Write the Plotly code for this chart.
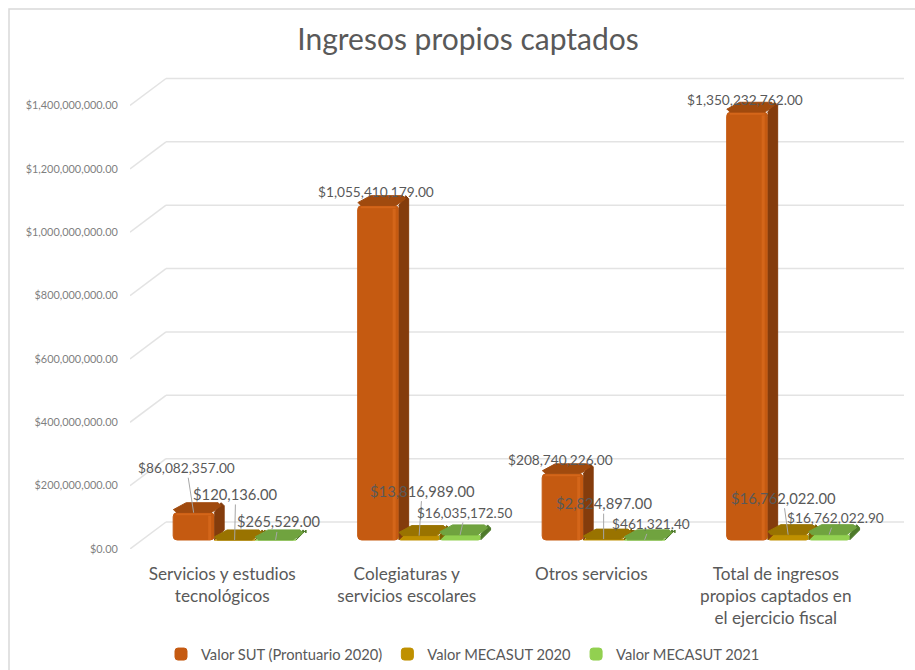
import plotly.graph_objects as go

categories = ["Servicios y estudios<br>tecnológicos", "Colegiaturas y<br>servicios escolares",
              "Otros servicios", "Total de ingresos<br>propios captados en<br>el ejercicio fiscal"]
valor_sut = [86082357.00, 1055410179.00, 208740226.00, 1350232762.00]
valor_mecasut_2020 = [120136.00, 13816989.00, 2824897.00, 16762022.00]
valor_mecasut_2021 = [265529.00, 16035172.50, 461321.40, 16762022.90]
y_ticks = [0, 200000000, 400000000, 600000000, 800000000, 1000000000, 1200000000, 1400000000]

# px offsets of each value label from the top of its bar, whether a leader is visible, font size
sut_labels = [(-7, -45, True, 13.7), (-2, -14, False, 13.7), (-2, -14, False, 13.7), (-2, -13, False, 13.7)]
m20_labels = [(1, -46, True, 14.8), (3, -45, True, 14.8), (0, -36, True, 14.8), (-5, -37, True, 14.8)]
m21_labels = [(3, -18, True, 14.6), (5, -22, True, 13.5), (6, -16, True, 13.7), (6, -17, True, 13.7)]

W, H = 915, 670
left, right, top, bottom = 130, 904, 75, 549
px_x = 184.5                      # one category
px_y = (549 - 105.5) / 1.4e9      # px per currency unit

# 3d look: floor depth and bar depth, converted to axis units
wall_dx, wall_dy = 36 / px_x, 27 / px_y
bar_dx, bar_dy = 10 / px_x, 10 / px_y
floor = 9 / px_y
bar_w = 41 / px_x
offsets = [-0.266, -0.044, 0.178]

series = [
    ("Valor SUT (Prontuario 2020)", valor_sut, "#C55A11", "#843C0C", "#A04A0E", "#D4661A", sut_labels),
    ("Valor MECASUT 2020", valor_mecasut_2020, "#BF9000", "#7F6000", "#997300", "#D9A300", m20_labels),
    ("Valor MECASUT 2021", valor_mecasut_2021, "#92D050", "#4E7A2A", "#70A33F", "#A4DC66", m21_labels),
]

fig = go.Figure()
annotations = []

for (name, values, front, side, lid, shine, labels), off in zip(series, offsets):
    xs = [i + off + bar_w / 2 for i in range(len(values))]
    fig.add_trace(go.Bar(x=xs, y=values, base=[floor] * len(values), width=bar_w, name=name,
                         marker=dict(color=front, cornerradius=4, line=dict(color=front, width=1))))

    for x, v, (ax, ay, leader, size) in zip(xs, values, labels):
        x0 = x - bar_w / 2
        x1 = x + bar_w / 2
        y0 = floor + v
        c = 3 / px_x
        d = 3 / px_y
        # right side of the bar
        fig.add_trace(go.Scatter(
            x=[x1, x1 + bar_dx, x1 + bar_dx, x1 + bar_dx - c, x1],
            y=[floor, floor + bar_dy, y0 + bar_dy - d, y0 + bar_dy, y0],
            mode="lines", fill="toself", fillcolor=side, line=dict(color=side, width=1),
            showlegend=False, hoverinfo="skip"))
        # lid of the bar
        fig.add_trace(go.Scatter(
            x=[x0 + c, x1 - c, x1 + bar_dx - c, x1 + bar_dx - 2 * c, x0 + bar_dx + c, x0],
            y=[y0, y0, y0 + bar_dy - d, y0 + bar_dy, y0 + bar_dy, y0 + d],
            mode="lines", fill="toself", fillcolor=lid, line=dict(color=lid, width=1),
            showlegend=False, hoverinfo="skip"))
        # bevel highlight on tall fronts
        if v > 50000000:
            fig.add_trace(go.Scatter(
                x=[x1 - 1.5 * c, x1 - 1.5 * c], y=[floor, y0 - d],
                mode="lines", line=dict(color=shine, width=3),
                showlegend=False, hoverinfo="skip"))
            fig.add_trace(go.Scatter(
                x=[x0 + c, x1 - c], y=[y0 - d / 2, y0 - d / 2],
                mode="lines", line=dict(color=shine, width=2),
                showlegend=False, hoverinfo="skip"))
        annotations.append(dict(
            x=x, y=y0, ax=ax, ay=ay, text=f"${v:,.2f}", showarrow=True, arrowhead=0, arrowwidth=1,
            arrowcolor="#A6A6A6" if leader else "rgba(0,0,0,0)",
            font=dict(size=size, color="#595959")))

# gridlines run from the front edge up the side wall and along the back wall
shapes = []
for t in y_ticks:
    shapes.append(dict(type="line", layer="below", xref="x", yref="y", x0=-0.5, y0=t,
                       x1=-0.5 + wall_dx, y1=t + wall_dy, line=dict(color="#E3E3E3", width=1.5)))
    shapes.append(dict(type="line", layer="below", xref="x", yref="y", x0=-0.5 + wall_dx, y0=t + wall_dy,
                       x1=3.5 + wall_dx, y1=t + wall_dy, line=dict(color="#E3E3E3", width=1.5)))
# chart frame
shapes.append(dict(type="rect", layer="below", xref="paper", yref="paper",
                   x0=(9 - left) / (right - left), x1=(W + 5 - left) / (right - left),
                   y0=(549 - H - 5) / (549 - top), y1=(549 - 9) / (549 - top),
                   line=dict(color="#D9D9D9", width=1.5)))

fig.update_layout(
    width=W, height=H,
    margin=dict(l=left, r=W - right, t=top, b=H - bottom, autoexpand=False),
    paper_bgcolor="white", plot_bgcolor="white",
    barmode="overlay",
    font=dict(family="Lato, Carlito, sans-serif", color="#595959"),
    title=dict(text="Ingresos propios captados", x=468 / W, xanchor="center", y=1 - 39 / H, yanchor="middle",
               font=dict(size=30, color="#595959")),
    xaxis=dict(range=[-0.5, 3.5 + wall_dx], tickmode="array", tickvals=list(range(4)), ticktext=categories,
               showgrid=False, zeroline=False, showline=False, ticks="outside", ticklen=9,
               tickcolor="rgba(0,0,0,0)", tickfont=dict(size=17.2, color="#595959")),
    yaxis=dict(range=[0, (549 - top) / px_y], tickmode="array", tickvals=y_ticks, tickformat="$,.2f",
               showgrid=False, zeroline=False, showline=False, ticks="outside", ticklen=9,
               tickcolor="rgba(0,0,0,0)", tickfont=dict(size=10.9, color="#7F7F7F")),
    legend=dict(orientation="h", x=(161 - left) / (right - left), xanchor="left", y=1 - 638 / H, yanchor="top",
                yref="container", font=dict(size=14.7, color="#595959")),
    shapes=shapes,
    annotations=annotations,
)

# the browser's default body margin would push the 915x670 figure out of the window
fig.write_html("out.html", config=dict(displayModeBar=False), post_script="document.body.style.margin='0';")
